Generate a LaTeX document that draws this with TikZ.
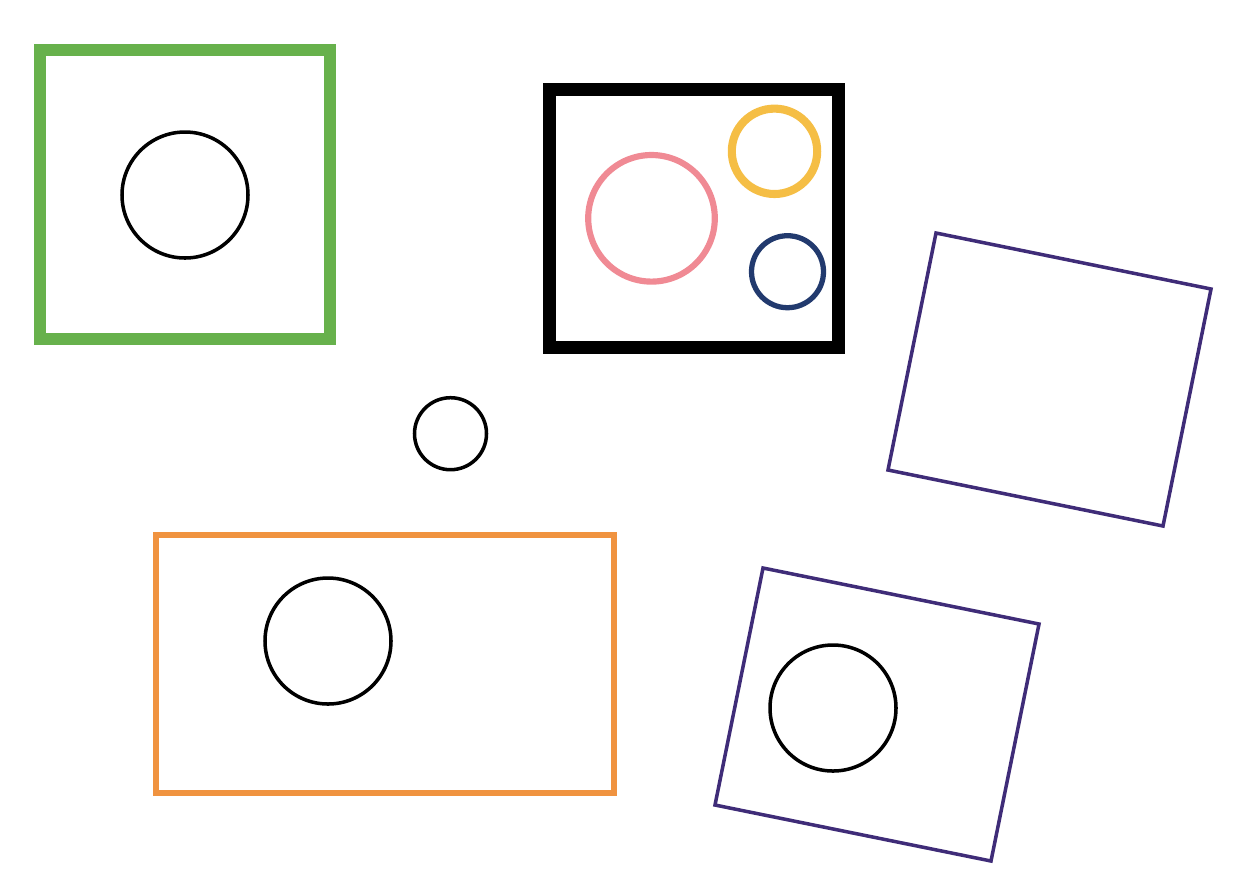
\documentclass[tikz,border=0pt]{standalone}
\usepackage{amsmath}
\usepackage{amssymb}
\usepackage{tikz}

\definecolor{xanhla}{HTML}{67B14C}
\definecolor{hong}{HTML}{F08A94}
\definecolor{vang}{HTML}{F5BE45}
\definecolor{xanhdam}{HTML}{223A6E}
\definecolor{cam}{HTML}{F09340}
\definecolor{tim}{HTML}{3F2C78}

\begin{document}
\begin{tikzpicture}[x=0.02cm, y=-0.02cm, line join=miter,
    tron/.style={line width=2pt},
    khung/.style={tim, line width=2pt}]
  \useasboundingbox (0,0) rectangle (1240,894);

  % Hình vuông xanh lá
  \draw[xanhla, line width=7.1pt] (40,50) rectangle (330,339);
  \draw[tron] (185,195) circle (63);

  % Hình chữ nhật đen
  \draw[line width=7.4pt] (549.5,89.5) rectangle (838,347);
  \draw[hong, line width=3.5pt] (651.5,218.3) circle (63.3);
  \draw[vang, line width=4.6pt] (774.5,151.3) circle (42.7);
  \draw[xanhdam, line width=3pt] (787.5,271.7) circle (36);

  % Đường tròn nhỏ
  \draw[tron] (450.5,433.7) circle (36);

  % Hình chữ nhật cam
  \draw[cam, line width=3.4pt] (156,535) rectangle (614,793);
  \draw[tron] (328,641) circle (63);

  % Hình vuông xoay (tím)
  \draw[khung] (936,233) -- (1211,289) -- (1163,526) -- (888,470) -- cycle;
  \draw[khung] (763,568) -- (1039,624) -- (991,861) -- (715,805) -- cycle;
  \draw[tron] (833,708) circle (63);
\end{tikzpicture}
\end{document}
